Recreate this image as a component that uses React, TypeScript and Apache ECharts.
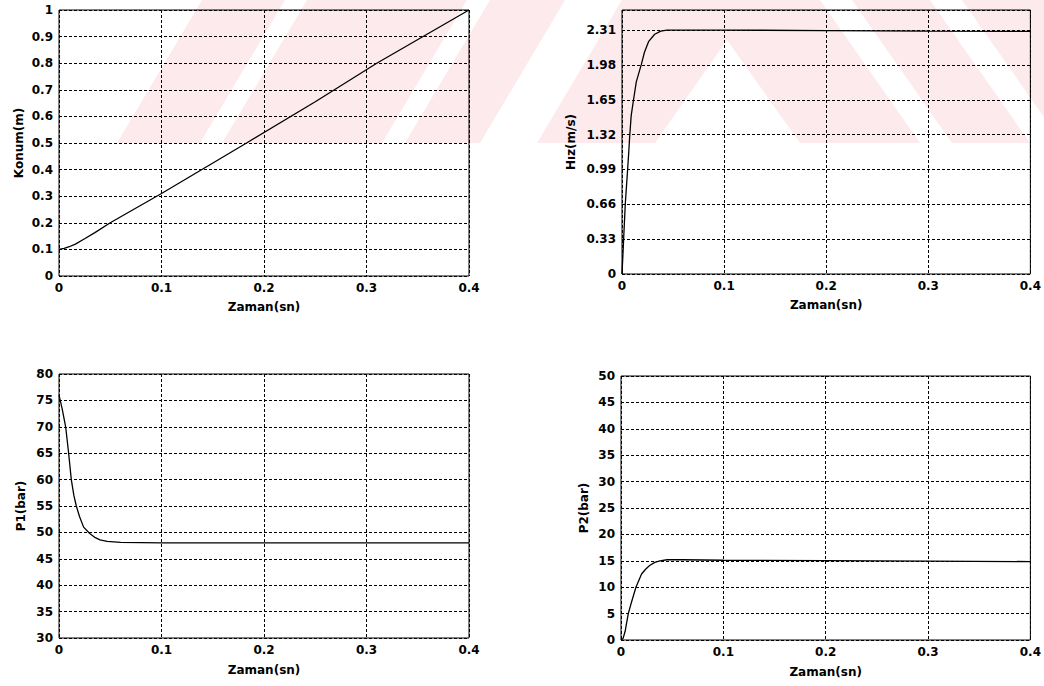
import React, { useEffect, useRef } from "react";
import * as echarts from "echarts";

// ---- Data ----
const timeKonum = [0, 0.005, 0.01, 0.016, 0.025, 0.035, 0.05, 0.1, 0.183, 0.25, 0.31, 0.4];
const konum = [0.1, 0.104, 0.11, 0.12, 0.14, 0.163, 0.2, 0.31, 0.5, 0.655, 0.8, 1.0];

const timeHiz = [0, 0.001, 0.0016, 0.0032, 0.0055, 0.0066, 0.0075, 0.009, 0.0113, 0.014, 0.0188, 0.022, 0.026, 0.032, 0.038, 0.044, 0.1, 0.2, 0.3, 0.4];
const hiz = [0, 0.2, 0.33, 0.66, 0.99, 1.15, 1.3, 1.5, 1.65, 1.82, 1.98, 2.1, 2.2, 2.27, 2.3, 2.31, 2.31, 2.305, 2.3, 2.297];

const timeP1 = [0, 0.003, 0.0065, 0.0094, 0.012, 0.0145, 0.0169, 0.02, 0.024, 0.03, 0.0354, 0.04, 0.047, 0.06, 0.1, 0.2, 0.3, 0.4];
const p1 = [76, 73.5, 70, 65, 60, 57, 55, 53, 51, 49.8, 49, 48.6, 48.3, 48.1, 48, 48, 48, 48];

const timeP2 = [0, 0.002, 0.004, 0.0071, 0.0103, 0.0146, 0.0201, 0.024, 0.028, 0.033, 0.038, 0.045, 0.06, 0.1, 0.2, 0.3, 0.4];
const p2 = [0, 0.3, 1.6, 5, 7.2, 10, 12.5, 13.4, 14.1, 14.7, 15, 15.2, 15.2, 15.1, 15.05, 14.95, 14.85];

// Axis ranges / tick steps
const xRange = [0, 0.4];
const xStep = 0.1;
const konumRange = [0, 1];
const konumStep = 0.1;
const hizRange = [0, 2.5];
const hizStep = 0.33;
const hizLastTick = 2.31;
const p1Range = [30, 80];
const p1Step = 5;
const p2Range = [0, 50];
const p2Step = 5;

const xName = "Zaman(sn)";
const yNames = ["Konum(m)", "Hız(m/s)", "P1(bar)", "P2(bar)"];

const FONT = "'DejaVu Sans', 'Liberation Sans', sans-serif";

const pairs = (t: number[], v: number[]) => t.map((x, i) => [x, v[i]]);

export default function App() {
  const ref = useRef<HTMLDivElement>(null);

  useEffect(() => {
    if (!ref.current) return;
    const chart = echarts.init(ref.current, undefined, { renderer: "svg" });

    const textStyle = { color: "#000", fontFamily: FONT, fontWeight: "bold" as const, fontSize: 12 };
    const splitLine = { show: true, lineStyle: { color: "#000", type: [3, 2], width: 1 } };

    const grids = [
      { left: 59, top: 10, width: 410, height: 266 },
      { left: 622, top: 10, width: 411, height: 264 },
      { left: 59, top: 374, width: 410, height: 264 },
      { left: 621, top: 376, width: 412, height: 264 },
    ].map((g) => ({ ...g, show: true, borderColor: "#000", borderWidth: 1, backgroundColor: "transparent" }));

    const xAxes = [0, 1, 2, 3].map((i) => ({
      type: "value",
      gridIndex: i,
      min: xRange[0],
      max: xRange[1],
      interval: xStep,
      name: xName,
      nameLocation: "middle",
      nameGap: i < 2 ? 25 : 26,
      nameTextStyle: textStyle,
      axisLine: { show: false },
      axisTick: { show: false },
      axisLabel: { ...textStyle, margin: 6 },
      splitLine,
    }));

    const yDefs = [
      { range: konumRange, step: konumStep, gap: 34 },
      { range: hizRange, step: hizStep, gap: 45 },
      { range: p1Range, step: p1Step, gap: 32 },
      { range: p2Range, step: p2Step, gap: 31 },
    ];

    const yAxes = yDefs.map((d, i) => ({
      type: "value",
      gridIndex: i,
      min: d.range[0],
      max: d.range[1],
      interval: d.step,
      name: yNames[i],
      nameLocation: "middle",
      nameGap: d.gap,
      nameTextStyle: textStyle,
      axisLine: { show: false },
      axisTick: { show: false },
      axisLabel: {
        ...textStyle,
        margin: 6,
        formatter:
          i === 1
            ? (v: number) => (v === 0 ? "0" : v > hizLastTick + 0.01 ? "" : v.toFixed(2))
            : undefined,
      },
      splitLine,
    }));

    const datasets = [
      pairs(timeKonum, konum),
      pairs(timeHiz, hiz),
      pairs(timeP1, p1),
      pairs(timeP2, p2),
    ];

    const series = datasets.map((d, i) => ({
      type: "line",
      xAxisIndex: i,
      yAxisIndex: i,
      data: d,
      showSymbol: false,
      symbol: "none",
      smooth: false,
      lineStyle: { color: "#000", width: 1.3 },
      z: 5,
    }));

    // pale watermark (background decoration)
    const pink = "#fdeaec";
    const dx = 85;
    const wm: any[] = [
      {
        type: "polygon",
        z: -10,
        silent: true,
        shape: { points: [[117, 143], [117 + dx, 0], [1044, 0], [1044, 143]] },
        style: { fill: pink },
      },
    ];
    [[200, 222], [382, 405], [480, 537]].forEach(([a, b]) =>
      wm.push({
        type: "polygon",
        z: -9,
        silent: true,
        shape: { points: [[a, 143], [b, 143], [b + dx, 0], [a + dx, 0]] },
        style: { fill: "#fff" },
      })
    );
    [[820, 852], [930, 962]].forEach(([a, b]) =>
      wm.push({
        type: "polygon",
        z: -9,
        silent: true,
        shape: { points: [[a, 0], [b, 0], [b + 100, 143], [a + 100, 143]] },
        style: { fill: "#fff" },
      })
    );
    wm.push({
      type: "polygon",
      z: -9,
      silent: true,
      shape: { points: [[727, 40], [800, 143], [655, 143]] },
      style: { fill: "#fff" },
    });

    chart.setOption({
      animation: false,
      backgroundColor: "#fff",
      grid: grids,
      xAxis: xAxes,
      yAxis: yAxes,
      series,
      graphic: { elements: wm },
    } as any);

    return () => chart.dispose();
  }, []);

  return (
    <div
      ref={ref}
      style={{ position: "absolute", left: 0, top: 0, width: 1044, height: 686 }}
    />
  );
}
